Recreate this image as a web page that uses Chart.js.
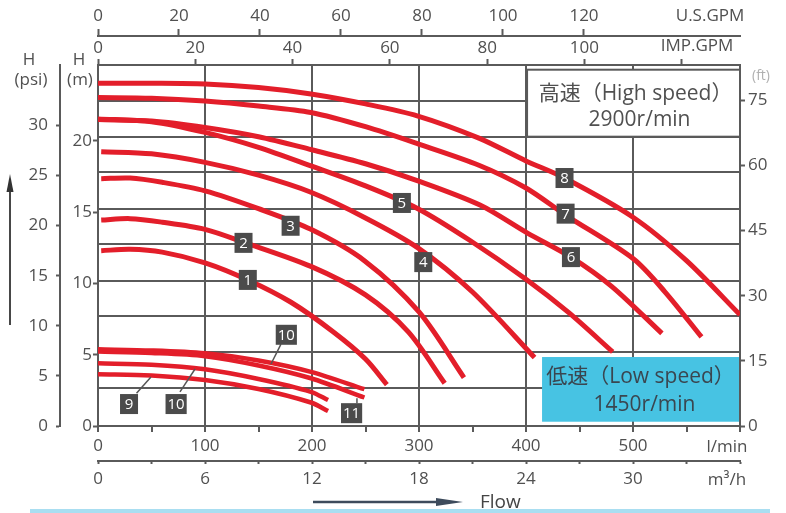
<!DOCTYPE html>
<html><head><meta charset="utf-8">
<script src="https://cdn.jsdelivr.net/npm/chart.js@4.4.1/dist/chart.umd.min.js"></script>
<style>html,body{margin:0;padding:0;background:#fff}#wrap{width:786px;height:513px;position:relative}</style>
</head><body><div id="wrap"><canvas id="c"></canvas></div>
<script>
// ---- data (flow in l/min, head in m) ----
const q1=[3,30,60,100,140,180,220,250,270],            h1=[12.3,12.4,12.2,11.45,10.25,8.7,6.6,4.7,2.9];
const q2=[3,30,60,100,136,199,250,290,324],            h2=[14.45,14.55,14.3,13.8,12.9,11.2,9.2,6.6,3.0];
const q3=[3,30,60,100,150,199,249,300,342],            h3=[17.35,17.4,17.1,16.5,15.25,13.8,11.6,8.0,3.4];
const q4=[3,50,100,150,199,250,299,350,408],           h4=[19.25,19.1,18.5,17.6,16.4,14.6,12.5,9.4,4.8];
const q5=[0,50,100,150,199,250,299,347,400,440,481],   h5=[21.55,21.35,20.6,19.55,18.25,16.85,15.25,13.05,10.3,7.95,5.2];
const q6=[0,50,100,150,199,250,299,357,401,442,480,527], h6=[21.5,21.4,20.95,20.3,19.4,18.4,17.2,15.5,13.55,11.85,9.8,6.5];
const q7=[0,50,100,150,199,250,299,356,400,437,500,530,564], h7=[23.05,23.0,22.8,22.45,22.0,21.0,19.8,18.3,16.7,14.8,11.75,9.4,6.25];
const q8=[0,50,100,150,199,250,299,356,400,436,500,550,600], h8=[24.05,24.05,24.0,23.75,23.3,22.6,21.75,20.2,18.6,17.4,14.65,11.6,7.8];
// low speed
const qLa=[0,50,100,150,199,249], hLa=[5.38,5.3,5.1,4.6,3.8,2.58];
const qLb=[0,50,100,150,199,249], hLb=[5.22,5.12,4.9,4.25,3.35,2.0];
const qLc=[0,50,100,150,199,215], hLc=[4.4,4.3,3.98,3.3,2.4,1.82];
const qLd=[0,50,100,150,199,215], hLd=[3.63,3.55,3.23,2.6,1.65,1.05];

// ---- tick labels ----
const lminTicks=[0,50,100,150,200,250,300,350,400,450,500,550,600];
const lminLabels=[0,100,200,300,400,500];
const m3hTicks=[0,3,6,9,12,15,18,21,24,27,30,33,36];
const m3hLabels=[0,6,12,18,24,30];
const usTicks=[0,20,40,60,80,100,120];
const impTicks=[0,20,40,60,80,100,120];
const impLabels=[0,20,40,60,80,100];
const mTicks=[0,5,10,15,20];
const psiTicks=[0,5,10,15,20,25,30];
const ftTicks=[0,15,30,45,60,75];
const gridLevels=[2.7,5.2,7.7,10.2,12.75,15.25,17.8,20.3,22.8];

const Q_MAX=600, H_MAX=25.33;
const M_PER_PSI=0.70307, M_PER_FT=0.3048, L_PER_USG=3.785, L_PER_IMPG=4.546, M3H_PER_LMIN=0.06;

const GRID='#5a5a5a', RED='#E31E2A', TXT='#505050';
Chart.defaults.font.family="'Open Sans','Noto Sans CJK JP',sans-serif";
Chart.defaults.font.size=17;
Chart.defaults.color=TXT;

const pts=(q,h)=>q.map((v,i)=>({x:v,y:h[i]}));
const curve=(q,h,w)=>({data:pts(q,h),xAxisID:'x',yAxisID:'y',borderColor:RED,borderWidth:w,pointRadius:0,fill:false,tension:0.3,borderCapStyle:'butt'});

const fixW=w=>s=>{s.width=w;};
const fixH=h=>s=>{s.height=h;};
const setTicks=arr=>s=>{s.ticks=arr.map(v=>({value:v}));};

const annotations={
  tags:[
    {t:'1',q:140,h:10.25},{t:'2',q:136,h:12.85},{t:'3',q:180,h:14.05},{t:'4',q:304,h:11.5},
    {t:'5',q:284,h:15.65},{t:'6',q:442,h:11.85},{t:'7',q:437,h:14.9},{t:'8',q:436,h:17.4},
    {t:'9',q:29,h:1.54,lead:[36,2.3,49.5,3.44]},
    {t:'10',q:73,h:1.54,lead:[76.6,2.39,90.7,4.0]},
    {t:'10',q:176,h:6.4,lead:[171,5.75,161.7,4.35]},
    {t:'11',q:237,h:0.9,lead:[242,1.6,242,1.95]}
  ],
  high:{q0:401,h0:20.3,h1:25.0,lines:['高速（High speed）','2900r/min']},
  low:{q0:415,h0:0.3,h1:4.84,lines:['低速（Low speed）','1450r/min']}
};

const overlay={
  id:'overlay',
  afterDraw(chart){
    const ctx=chart.ctx, ca=chart.chartArea;
    const X=v=>chart.scales.x.getPixelForValue(v), Y=v=>chart.scales.y.getPixelForValue(v);
    ctx.save();
    // high speed box
    const hb=annotations.high;
    let l=X(hb.q0), t=Y(hb.h1), b=Y(hb.h0), r=ca.right;
    ctx.fillStyle='#fff'; ctx.fillRect(l,t,r-l,b-t);
    ctx.strokeStyle=GRID; ctx.lineWidth=2; ctx.strokeRect(l,t,r-l,b-t);
    ctx.fillStyle=TXT; ctx.font="21px 'Open Sans','Noto Sans CJK JP',sans-serif";
    ctx.textAlign='center'; ctx.textBaseline='middle';
    ctx.fillText(hb.lines[0],(l+r)/2+2,t+24);
    ctx.fillText(hb.lines[1],(l+r)/2+6,t+50);
    // low speed box
    const lb=annotations.low;
    l=X(lb.q0); t=Y(lb.h1); b=Y(lb.h0); r=ca.right-1;
    ctx.fillStyle='#47C3E3'; ctx.fillRect(l,t,r-l,b-t);
    ctx.fillStyle='#3a4650';
    ctx.fillText(lb.lines[0],(l+r)/2,t+20);
    ctx.fillText(lb.lines[1],(l+r)/2+4,t+48);
    // tags
    ctx.font="15px 'Open Sans',sans-serif";
    for(const g of annotations.tags){
      if(g.lead){
        ctx.strokeStyle='#555'; ctx.lineWidth=1.5;
        ctx.beginPath(); ctx.moveTo(X(g.lead[0]),Y(g.lead[1])); ctx.lineTo(X(g.lead[2]),Y(g.lead[3])); ctx.stroke();
      }
      const cx=X(g.q), cy=Y(g.h), w=Math.max(18,ctx.measureText(g.t).width+4), hgt=20;
      ctx.fillStyle='#4b4b4b'; ctx.fillRect(cx-w/2,cy-hgt/2,w,hgt);
      ctx.fillStyle='#fff'; ctx.fillText(g.t,cx,cy+1);
    }
    // titles and units
    ctx.fillStyle=TXT; ctx.font="17px 'Open Sans',sans-serif";
    ctx.fillText('H',29,60); ctx.fillText('(psi)',31,80);
    ctx.fillText('H',79,60); ctx.fillText('(m)',80,80);
    ctx.fillText('U.S.GPM',710,16); ctx.fillText('IMP.GPM',697,46);
    ctx.fillText('l/min',727,447); ctx.fillText('m³/h',727,480);
    ctx.fillStyle='#b0b0b0'; ctx.font="14px 'Open Sans',sans-serif";
    ctx.fillText('(ft)',761,76);
    // vertical arrow (left)
    ctx.strokeStyle='#333'; ctx.fillStyle='#333'; ctx.lineWidth=1.8;
    ctx.beginPath(); ctx.moveTo(10,325); ctx.lineTo(10,188); ctx.stroke();
    ctx.beginPath(); ctx.moveTo(10,174); ctx.lineTo(13.5,192); ctx.lineTo(6.5,192); ctx.closePath(); ctx.fill();
    // flow arrow
    ctx.strokeStyle='#3d4b5c'; ctx.fillStyle='#3d4b5c'; ctx.lineWidth=2.5;
    ctx.beginPath(); ctx.moveTo(313,502); ctx.lineTo(440,502); ctx.stroke();
    ctx.beginPath(); ctx.moveTo(463,502); ctx.lineTo(436,498); ctx.lineTo(436,506); ctx.closePath(); ctx.fill();
    ctx.fillStyle='#444'; ctx.font="19px 'Open Sans',sans-serif"; ctx.textAlign='left';
    ctx.fillText('Flow',480,503);
    // bottom band
    ctx.fillStyle='#a9def1'; ctx.fillRect(30,509,740,4);
    ctx.restore();
  }
};

new Chart(document.getElementById('c'),{
  type:'line',
  data:{datasets:[
    curve(q1,h1,5),curve(q2,h2,5),curve(q3,h3,5),curve(q4,h4,5),
    curve(q5,h5,5),curve(q6,h6,5),curve(q7,h7,5),curve(q8,h8,5),
    curve(qLa,hLa,4.5),curve(qLb,hLb,4.5),curve(qLc,hLc,4.5),curve(qLd,hLd,4.5)
  ]},
  options:{
    responsive:true,maintainAspectRatio:false,animation:false,
    layout:{padding:{left:0,right:0,top:0,bottom:22}},
    plugins:{legend:{display:false},tooltip:{enabled:false}},
    scales:{
      x:{type:'linear',position:'bottom',weight:0,min:0,max:Q_MAX,
        afterBuildTicks:setTicks(lminTicks),afterFit:fixH(35),
        grid:{color:c=>(c.tick&&c.tick.value%100===0)?GRID:'rgba(0,0,0,0)',lineWidth:2,tickColor:GRID,tickLength:6,tickWidth:2},
        border:{color:GRID,width:2},
        ticks:{autoSkip:false,maxRotation:0,padding:4,callback:v=>lminLabels.includes(v)?String(v):''}},
      m3h:{type:'linear',position:'bottom',weight:1,min:0,max:Q_MAX*M3H_PER_LMIN,
        afterBuildTicks:setTicks(m3hTicks),afterFit:fixH(30),
        grid:{drawOnChartArea:false,tickColor:GRID,tickLength:3,tickWidth:2},
        border:{color:GRID,width:2},
        ticks:{autoSkip:false,maxRotation:0,padding:5,callback:v=>m3hLabels.includes(v)?String(v):''}},
      us:{type:'linear',position:'top',weight:1,min:0,max:Q_MAX/L_PER_USG,
        afterBuildTicks:setTicks(usTicks),afterFit:fixH(36),
        grid:{drawOnChartArea:false,tickColor:GRID,tickLength:7,tickWidth:2},
        border:{color:GRID,width:2},
        ticks:{autoSkip:false,maxRotation:0,padding:3}},
      imp:{type:'linear',position:'top',weight:0,min:0,max:Q_MAX/L_PER_IMPG,
        afterBuildTicks:setTicks(impTicks),afterFit:fixH(29),
        grid:{drawOnChartArea:false,tickColor:GRID,tickLength:6,tickWidth:2},
        border:{color:GRID,width:2},
        ticks:{autoSkip:false,maxRotation:0,padding:1,callback:v=>impLabels.includes(v)?String(v):''}},
      psi:{type:'linear',position:'left',weight:1,min:0,max:H_MAX/M_PER_PSI,
        afterBuildTicks:setTicks(psiTicks),afterFit:fixW(60),
        grid:{drawOnChartArea:false,tickColor:GRID,tickLength:4,tickWidth:2},
        border:{color:GRID,width:2},
        ticks:{padding:8}},
      y:{type:'linear',position:'left',weight:0,min:0,max:H_MAX,
        afterBuildTicks:setTicks(mTicks),afterFit:fixW(38),
        grid:{drawOnChartArea:false,tickColor:GRID,tickLength:5,tickWidth:2},
        border:{color:GRID,width:2},
        ticks:{padding:1}},
      hg:{type:'linear',position:'left',weight:-1,min:0,max:H_MAX,
        afterBuildTicks:setTicks(gridLevels),afterFit:fixW(0),
        grid:{color:GRID,lineWidth:2,drawTicks:false},
        border:{display:false},
        ticks:{display:false}},
      ft:{type:'linear',position:'right',min:0,max:H_MAX/M_PER_FT,
        afterBuildTicks:setTicks(ftTicks),afterFit:fixW(46),
        grid:{drawOnChartArea:false,tickColor:GRID,tickLength:5,tickWidth:2},
        border:{color:GRID,width:2},
        ticks:{padding:3}}
    }
  },
  plugins:[overlay]
});
</script>
</body></html>
